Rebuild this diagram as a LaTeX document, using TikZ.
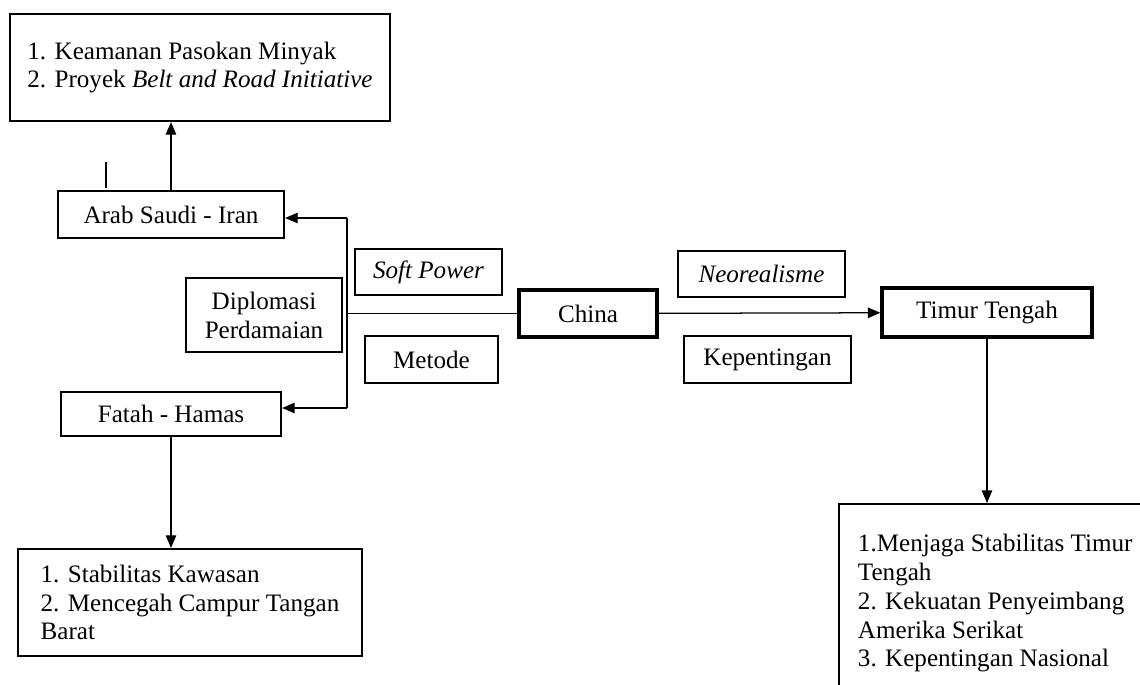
\documentclass[tikz,border=0pt]{standalone}
\usepackage{fontspec}
\setmainfont{Liberation Serif}
\usepackage{tikz}
\usetikzlibrary{arrows.meta}

\begin{document}
\begin{tikzpicture}[x=0.478pt,y=-0.478pt,line width=0.6pt,
                    every node/.style={font=\fontsize{12}{13.8}\selectfont, inner sep=0pt},
                    main node/.style={draw, line width=1.1pt, align=center},
                    key node/.style={draw, line width=1.5pt, align=center},
                    label node/.style={draw, line width=0.6pt, align=center},
                    list node/.style={draw, line width=1.1pt, align=left},
                    arrow/.style={-{Triangle[length=6pt,width=5pt]}}]
  \useasboundingbox (0,0) rectangle (1140,684);

  %Left side%
  \node[list node, minimum width=181.6pt, minimum height=51.1pt] (1) at (200,67.5)
    {1. Keamanan Pasokan Minyak\\2. Proyek \textit{Belt and Road Initiative}};
  \node[main node, minimum width=108pt, minimum height=22.5pt] (2) at (171,214.5) {Arab Saudi - Iran};
  \node[main node, minimum width=105.2pt, minimum height=21pt] (3) at (171,414) {Fatah - Hamas};
  \node[label node, minimum width=74.6pt, minimum height=35.4pt] (4) at (264,315) {Diplomasi\\Perdamaian};
  \node[label node, minimum width=70.3pt, minimum height=22pt] (5) at (428.5,272) {\textit{Soft Power}};
  \node[label node, minimum width=63.6pt, minimum height=22.5pt] (6) at (431.5,359.5) {Metode};
  \node[list node, minimum width=164.4pt, minimum height=51.1pt] (12) at (190,602.5)
    {1. Stabilitas Kawasan\\2. Mencegah Campur Tangan\\Barat};

  %Centre and right side%
  \node[key node, minimum width=66pt, minimum height=22.5pt] (7) at (588,313.5) {China};
  \node[label node, minimum width=79.8pt, minimum height=22pt] (8) at (761.5,274) {\textit{Neorealisme}};
  \node[label node, minimum width=79.8pt, minimum height=22.5pt] (9) at (767.5,359.5) {Kepentingan};
  \node[key node, minimum width=100.4pt, minimum height=23.4pt] (10) at (987,312.5) {Timur Tengah};
  \node[list node, inner xsep=9pt, inner ysep=14.3pt, anchor=north west] (11) at (838,503)
    {1.Menjaga Stabilitas Timur\\Tengah\\2. Kekuatan Penyeimbang\\Amerika Serikat\\3. Kepentingan Nasional};

  \coordinate (b1) at (347,218);
  \coordinate (b2) at (347,408);
  \coordinate (s1) at (106,162);
  \coordinate (s2) at (106,188);

  %Connectors%
  \draw (s1) -- (s2);
  \draw[arrow] (2) -- (2 |- 1.south);
  \draw (b1) -- (b2);
  \draw[arrow] (b1) -- (b1 -| 2.east);
  \draw[arrow] (b2) -- (b2 -| 3.east);
  \draw (7.west) -- (7.west -| b1);
  \draw[arrow] (7) -- (10);
  \draw[arrow] (10) -- (10 |- 11.north);
  \draw[arrow] (3) -- (3 |- 12.north);
\end{tikzpicture}
\end{document}
